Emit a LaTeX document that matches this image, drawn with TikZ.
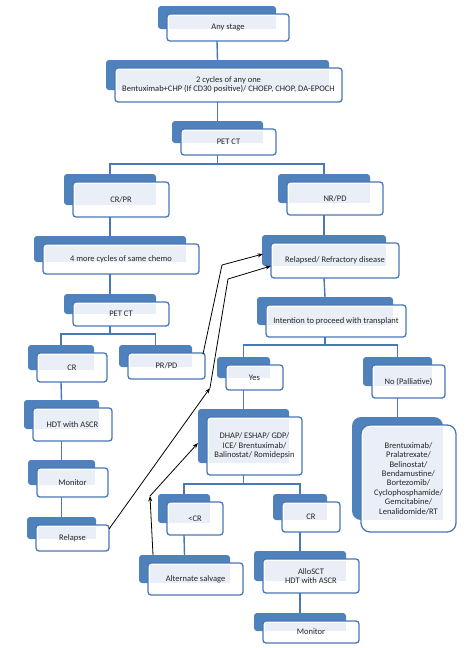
\documentclass[tikz,border=0pt]{standalone}
\usepackage{fontspec}
\setmainfont{Carlito}
\usetikzlibrary{arrows.meta,backgrounds}

\definecolor{tabblue}{HTML}{4F81BD}
\definecolor{lineblue}{HTML}{4A78B4}
\definecolor{paleblue}{HTML}{E9EEF7}

\tikzset{
  stage/.style={draw=lineblue, line width=1.3pt, rounded corners=3pt, align=center,
    inner sep=1pt, outer sep=0pt, text=black!85, font=\fontsize{8.5}{9.4}\selectfont},
  link/.style={draw=lineblue, line width=1.4pt},
  jump/.style={-{Stealth[length=5.5pt,width=4pt]}, line width=0.8pt, black}
}

\begin{document}
\begin{tikzpicture}[x=1pt,y=-1pt]
\useasboundingbox (0,0) rectangle (474,648);

% boxes, placed at the centre of the white card
\node[stage, minimum width=122, minimum height=27] (any)  at (228,27.5) {Any stage};
\node[stage, minimum width=227, minimum height=34] (cyc)  at (228.5,85)
  {2 cycles of any one\\Bentuximab+CHP (If CD30 positive)/ CHOEP, CHOP, DA-EPOCH};
\node[stage, minimum width=95, minimum height=26]  (pet1) at (228.5,142) {PET CT};
\node[stage, minimum width=96, minimum height=35]  (crpr) at (121,199.5) {CR/PR};
\node[stage, minimum width=96, minimum height=33]  (nrpd) at (335,198.5) {NR/PD};
\node[stage, minimum width=156, minimum height=30] (four) at (121,259) {4 more cycles of same chemo};
\node[stage, minimum width=128, minimum height=35] (rel)  at (335,260.5) {Relapsed/ Refractory disease};
\node[stage, minimum width=96, minimum height=24]  (pet2) at (121,314) {PET CT};
\node[stage, minimum width=140, minimum height=32] (intent) at (336,321) {Intention to proceed with transplant};
\node[stage, minimum width=70, minimum height=29]  (cr1)  at (72,367.5) {CR};
\node[stage, minimum width=77, minimum height=26]  (prpd) at (166.5,366) {PR/PD};
\node[stage, minimum width=57, minimum height=25]  (yes)  at (254.5,377.5) {Yes};
\node[stage, minimum width=73, minimum height=33]  (no)   at (408.5,381.5) {No (Palliative)};
\node[stage, minimum width=79, minimum height=33]  (hdt)  at (72.5,424.5) {HDT with ASCR};
\node[stage, minimum width=95, minimum height=58]  (dhap) at (254.5,446)
  {DHAP/ ESHAP/ GDP/\\ICE/ Brentuximab/\\Balinostat/ Romidepsin};
\node[stage, minimum width=95, minimum height=107, rounded corners=9pt] (pall) at (408.5,478.5)
  {Brentuximab/\\Pralatrexate/\\Belinostat/\\Bendamustine/\\Bortezomib/\\Cyclophosphamide/\\Gemcitabine/\\Lenalidomide/RT};
\node[stage, minimum width=71, minimum height=29]  (mon1) at (72.5,482.5) {Monitor};
\node[stage, minimum width=73, minimum height=26]  (relapse) at (72.5,538) {Relapse};
\node[stage, minimum width=56, minimum height=33]  (ltcr) at (195,518.5) {<CR};
\node[stage, minimum width=58, minimum height=30]  (cr2)  at (311,517) {CR};
\node[stage, minimum width=95, minimum height=32]  (alt)  at (195.5,579) {Alternate salvage};
\node[stage, minimum width=96, minimum height=34]  (allo) at (311,576) {AlloSCT\\HDT with ASCR};
\node[stage, minimum width=96, minimum height=22]  (mon2) at (311,632) {Monitor};

% blue tabs behind the cards
\begin{scope}[on background layer]
  \foreach \n/\r in {any/3,cyc/3,pet1/3,crpr/3,nrpd/3,four/3,rel/3,pet2/3,intent/3,cr1/3,prpd/3,
      yes/3,no/3,hdt/3,dhap/3,pall/9,mon1/3,relapse/3,ltcr/3,cr2/3,alt/3,allo/3,mon2/3} {
    \fill[tabblue, rounded corners=\r pt] ([xshift=-9pt,yshift=8pt]\n.north west)
      rectangle ([xshift=-13pt,yshift=12pt]\n.south east);
    \fill[white, rounded corners=\r pt] (\n.north west) rectangle (\n.south east);
    \fill[paleblue] ([xshift=1.5pt,yshift=-1.5pt]\n.north west)
      rectangle ([xshift=-13pt,yshift=12pt]\n.south east);
    \coordinate (\n-t) at ([xshift=-11pt,yshift=8pt]\n.north);
    \coordinate (\n-b) at ([xshift=-11pt]\n.south);
  }

  % tree lines
  \draw[link] (any-b) -- (cyc-t);
  \draw[link] (cyc-b) -- (pet1-t);
  \draw[link] (crpr-t) -- ++(0,-10) coordinate (j1) -| (nrpd-t);
  \draw[link] (pet1-b) -- (pet1-b |- j1);
  \draw[link] (crpr-b) -- (four-t);
  \draw[link] (four-b) -- (pet2-t);
  \draw[link] (nrpd-b) -- (rel-t);
  \draw[link] (rel-b) -- (intent-t);
  \draw[link] (cr1-t) -- ++(0,-11) coordinate (j2) -| (prpd-t);
  \draw[link] (pet2-b) -- (pet2-b |- j2);
  \draw[link] (yes-t) -- ++(0,-12) coordinate (j3) -| (no-t);
  \draw[link] (intent-b) -- (intent-b |- j3);
  \draw[link] (cr1-b) -- (hdt-t);
  \draw[link] (hdt-b) -- (mon1-t);
  \draw[link] (mon1-b) -- (relapse-t);
  \draw[link] (yes-b) -- (dhap-t);
  \draw[link] (no-b) -- (pall-t);
  \draw[link] (ltcr-t) -- ++(0,-10) coordinate (j4) -| (cr2-t);
  \draw[link] (dhap-b) -- (dhap-b |- j4);
  \draw[link] (ltcr-b) -- (alt-t);
  \draw[link] (cr2-b) -- (allo-t);
  \draw[link] (allo-b) -- (mon2-t);
\end{scope}

% back to relapsed disease / salvage
\coordinate (k1) at (210,388);
\coordinate (k2) at (150,496);
\draw[jump] ([yshift=-4pt]relapse.north east) -- (k1);
\draw[jump] (k1) -- (228,279) -- ([yshift=-5.5pt]rel.west);
\draw[jump] ([xshift=-2pt,yshift=-1pt]prpd.north east) -- (222,265) -- ([xshift=-8pt,yshift=6.5pt]rel.west);
\draw[jump] ([xshift=5pt,yshift=8pt]alt.north west) -- (k2);
\draw[jump] (k2) -- ([xshift=-9pt,yshift=3pt]dhap.west);
\end{tikzpicture}
\end{document}
